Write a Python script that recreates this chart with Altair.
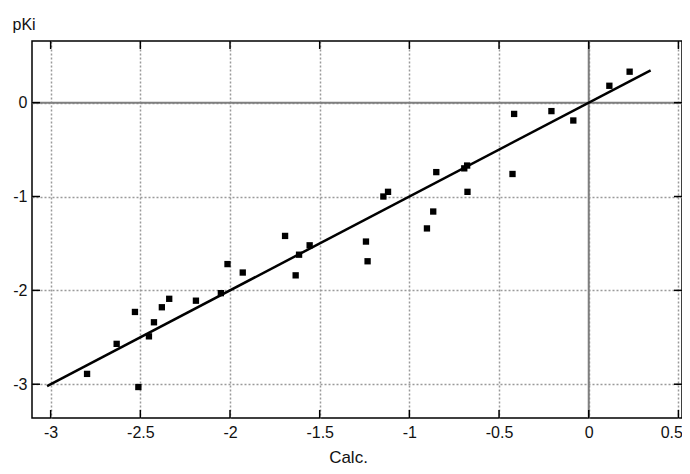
import altair as alt
import pandas as pd

calc = [-2.797, -2.511, -2.632, -2.452, -2.530, -2.424, -2.380, -2.339, -2.190, -2.051,
        -2.014, -1.929, -1.693, -1.634, -1.615, -1.556, -1.242, -1.233, -0.902, -0.867,
        -1.145, -1.119, -0.850, -0.694, -0.678, -0.676, -0.425, -0.416, -0.208, -0.086,
        0.115, 0.228]
pki = [-2.89, -3.03, -2.57, -2.49, -2.23, -2.34, -2.18, -2.09, -2.11, -2.03,
       -1.72, -1.81, -1.42, -1.84, -1.62, -1.52, -1.48, -1.69, -1.34, -1.16,
       -1.00, -0.95, -0.74, -0.70, -0.67, -0.95, -0.76, -0.12, -0.09, -0.19,
       0.18, 0.33]
fit_x = [-3.02, 0.345]
fit_y = [-3.02, 0.345]
x_ticks = [-3, -2.5, -2, -1.5, -1, -0.5, 0, 0.5]
y_ticks = [-3, -2, -1, 0]
x_domain = [-3.104, 0.52]
y_domain = [-3.36, 0.657]

W, H = 650, 377
FONT = "Liberation Sans"
TXT = "#111111"

pts = pd.DataFrame({"calc": calc, "pki": pki})
fit = pd.DataFrame({"calc": fit_x, "pki": fit_y})
xt = pd.DataFrame({"calc": x_ticks})
yt = pd.DataFrame({"pki": y_ticks})
zero = pd.DataFrame({"calc": [0.0], "pki": [0.0]})

xs = alt.Scale(domain=x_domain, nice=False, zero=False)
ys = alt.Scale(domain=y_domain, nice=False, zero=False)

x_axis = alt.Axis(values=x_ticks, title="Calc.", ticks=False, domain=False,
                  grid=True, gridDash=[2, 2], gridColor="#9a9a9a", gridWidth=1.5,
                  labelFont=FONT, labelFontSize=16, labelColor=TXT,
                  labelPadding=6, labelExpr="'' + datum.value",
                  labelAlign={"condition": {"test": "datum.value >= 0.5", "value": "right"},
                              "value": "center"},
                  labelOffset={"condition": {"test": "datum.value >= 0.5", "value": 4},
                               "value": 0},
                  titleFont=FONT, titleFontSize=17,
                  titleFontWeight="normal", titleColor=TXT,
                  titleX=316, titleY=39, titleAlign="center", titleBaseline="middle",
                  labelFlush=False, labelOverlap=False)
y_axis = alt.Axis(values=y_ticks, title="pKi", ticks=False, domain=False,
                  grid=True, gridDash=[2, 2], gridColor="#9a9a9a", gridWidth=1.5,
                  labelFont=FONT, labelFontSize=16, labelColor=TXT,
                  labelPadding=5, labelExpr="'' + datum.value",
                  titleFont=FONT, titleFontSize=16,
                  titleFontWeight="normal", titleColor=TXT,
                  titleAngle=0, titleAlign="left", titleBaseline="alphabetic",
                  titleX=-20, titleY=-12, labelFlush=False, labelOverlap=False)

X = alt.X("calc:Q", scale=xs, axis=x_axis)
Y = alt.Y("pki:Q", scale=ys, axis=y_axis)

base_grid = alt.Chart(pts).mark_point(opacity=0).encode(x=X, y=Y)

zero_v = alt.Chart(zero).mark_rule(color="#7f7f7f", strokeWidth=2).encode(x=X)
zero_h = alt.Chart(zero).mark_rule(color="#7f7f7f", strokeWidth=2).encode(y=Y)

fit_line = alt.Chart(fit).mark_line(color="black", strokeWidth=2.5).encode(x=X, y=Y)

points = alt.Chart(pts).mark_square(color="black", size=40, opacity=1).encode(x=X, y=Y)

tick_style = dict(color="black", strokeWidth=1.5)
bottom_ticks = alt.Chart(xt).mark_rule(**tick_style).encode(
    x=X, y=alt.value(H), y2=alt.value(H - 8))
top_ticks = alt.Chart(xt).mark_rule(**tick_style).encode(
    x=X, y=alt.value(0), y2=alt.value(8))
left_ticks = alt.Chart(yt).mark_rule(**tick_style).encode(
    y=Y, x=alt.value(0), x2=alt.value(8))
right_ticks = alt.Chart(yt).mark_rule(**tick_style).encode(
    y=Y, x=alt.value(W), x2=alt.value(W - 8))

chart = alt.layer(
    base_grid, zero_v, zero_h, fit_line, points,
    bottom_ticks, top_ticks, left_ticks, right_ticks,
).properties(
    width=W, height=H,
    padding={"left": 24, "top": 33, "right": 0, "bottom": 48},
    autosize=alt.AutoSizeParams(type="none"),
    background="white",
).configure_view(
    stroke="black", strokeWidth=1.5
)

chart.save("out.html", embed_options={"renderer": "svg", "actions": False})
